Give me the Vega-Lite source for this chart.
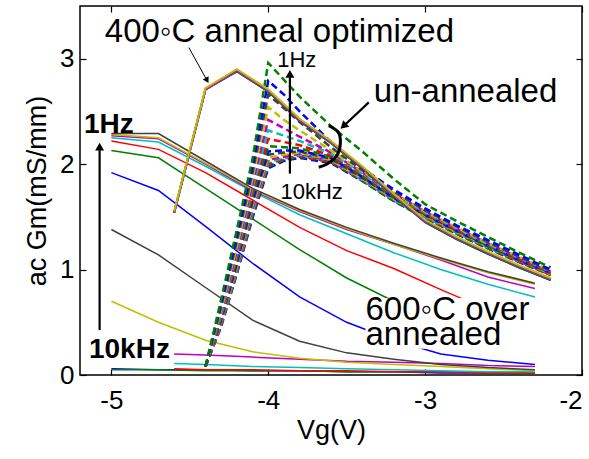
{
"$schema":"https://vega.github.io/schema/vega-lite/v6.json",
"width":502,"height":369,
"autosize":{"type":"none"},
"padding":{"left":80,"top":6,"right":7,"bottom":84},
"background":"white",
"config":{"view":{"stroke":"#000","strokeWidth":1.5},"font":"Liberation Sans",
"axis":{"grid":false,"domain":false,"tickColor":"#000","tickSize":6,"tickWidth":1.2,"labelFont":"Liberation Sans","labelFontSize":26,"labelColor":"#000","titleFont":"Liberation Sans","titleFontSize":27,"titleFontWeight":"normal","titleColor":"#000"}},
"datasets":{
"o":[
{"s":"o14","x":-5,"y":0.06},{"s":"o14","x":-4.7,"y":0.05},{"s":"o14","x":-4.4,"y":0.05},{"s":"o14","x":-4.1,"y":0.04},{"s":"o14","x":-3.8,"y":0.04},{"s":"o14","x":-3.5,"y":0.03},{"s":"o14","x":-3.2,"y":0.03},{"s":"o14","x":-2.9,"y":0.02},{"s":"o14","x":-2.6,"y":0.02},{"s":"o14","x":-2.3,"y":0.02},
{"s":"o13","x":-5,"y":0.05},{"s":"o13","x":-4.7,"y":0.05},{"s":"o13","x":-4.4,"y":0.04},{"s":"o13","x":-4.1,"y":0.04},{"s":"o13","x":-3.8,"y":0.04},{"s":"o13","x":-3.5,"y":0.03},{"s":"o13","x":-3.2,"y":0.03},{"s":"o13","x":-2.9,"y":0.03},{"s":"o13","x":-2.6,"y":0.02},{"s":"o13","x":-2.3,"y":0.02},
{"s":"o12","x":-4.6,"y":0.06},{"s":"o12","x":-4.4,"y":0.05},{"s":"o12","x":-4.1,"y":0.05},{"s":"o12","x":-3.8,"y":0.04},{"s":"o12","x":-3.5,"y":0.04},{"s":"o12","x":-3.2,"y":0.03},{"s":"o12","x":-2.9,"y":0.03},{"s":"o12","x":-2.6,"y":0.02},{"s":"o12","x":-2.3,"y":0.02},
{"s":"o11","x":-4.6,"y":0.11},{"s":"o11","x":-4.4,"y":0.10},{"s":"o11","x":-4.1,"y":0.08},{"s":"o11","x":-3.8,"y":0.07},{"s":"o11","x":-3.5,"y":0.06},{"s":"o11","x":-3.2,"y":0.05},{"s":"o11","x":-2.9,"y":0.04},{"s":"o11","x":-2.6,"y":0.03},{"s":"o11","x":-2.3,"y":0.03},
{"s":"o10","x":-4.6,"y":0.20},{"s":"o10","x":-4.4,"y":0.19},{"s":"o10","x":-4.1,"y":0.17},{"s":"o10","x":-3.8,"y":0.15},{"s":"o10","x":-3.5,"y":0.13},{"s":"o10","x":-3.2,"y":0.12},{"s":"o10","x":-2.9,"y":0.11},{"s":"o10","x":-2.6,"y":0.09},{"s":"o10","x":-2.3,"y":0.08},
{"s":"o09","x":-5,"y":0.70},{"s":"o09","x":-4.7,"y":0.50},{"s":"o09","x":-4.4,"y":0.33},{"s":"o09","x":-4.1,"y":0.22},{"s":"o09","x":-3.8,"y":0.16},{"s":"o09","x":-3.5,"y":0.12},{"s":"o09","x":-3.2,"y":0.10},{"s":"o09","x":-2.9,"y":0.08},{"s":"o09","x":-2.6,"y":0.06},{"s":"o09","x":-2.3,"y":0.04},
{"s":"o08","x":-5,"y":1.38},{"s":"o08","x":-4.7,"y":1.14},{"s":"o08","x":-4.4,"y":0.83},{"s":"o08","x":-4.1,"y":0.52},{"s":"o08","x":-3.8,"y":0.32},{"s":"o08","x":-3.5,"y":0.21},{"s":"o08","x":-3.2,"y":0.15},{"s":"o08","x":-2.9,"y":0.10},{"s":"o08","x":-2.6,"y":0.07},{"s":"o08","x":-2.3,"y":0.05},
{"s":"o07","x":-5,"y":1.92},{"s":"o07","x":-4.7,"y":1.75},{"s":"o07","x":-4.4,"y":1.41},{"s":"o07","x":-4.1,"y":1.06},{"s":"o07","x":-3.8,"y":0.74},{"s":"o07","x":-3.5,"y":0.50},{"s":"o07","x":-3.2,"y":0.33},{"s":"o07","x":-2.9,"y":0.20},{"s":"o07","x":-2.6,"y":0.14},{"s":"o07","x":-2.3,"y":0.10},
{"s":"o06","x":-5,"y":2.13},{"s":"o06","x":-4.7,"y":2.06},{"s":"o06","x":-4.4,"y":1.77},{"s":"o06","x":-4.1,"y":1.48},{"s":"o06","x":-3.8,"y":1.19},{"s":"o06","x":-3.5,"y":0.92},{"s":"o06","x":-3.2,"y":0.70},{"s":"o06","x":-2.9,"y":0.52},{"s":"o06","x":-2.6,"y":0.38},{"s":"o06","x":-2.3,"y":0.27},
{"s":"o05","x":-5,"y":2.22},{"s":"o05","x":-4.7,"y":2.14},{"s":"o05","x":-4.4,"y":1.92},{"s":"o05","x":-4.1,"y":1.66},{"s":"o05","x":-3.8,"y":1.40},{"s":"o05","x":-3.5,"y":1.18},{"s":"o05","x":-3.2,"y":1.01},{"s":"o05","x":-2.9,"y":0.81},{"s":"o05","x":-2.6,"y":0.62},{"s":"o05","x":-2.3,"y":0.48},
{"s":"o04","x":-5,"y":2.25},{"s":"o04","x":-4.7,"y":2.21},{"s":"o04","x":-4.4,"y":1.98},{"s":"o04","x":-4.1,"y":1.74},{"s":"o04","x":-3.8,"y":1.52},{"s":"o04","x":-3.5,"y":1.34},{"s":"o04","x":-3.2,"y":1.16},{"s":"o04","x":-2.9,"y":1.00},{"s":"o04","x":-2.6,"y":0.86},{"s":"o04","x":-2.3,"y":0.74},
{"s":"o03","x":-5,"y":2.27},{"s":"o03","x":-4.7,"y":2.24},{"s":"o03","x":-4.4,"y":2.00},{"s":"o03","x":-4.1,"y":1.75},{"s":"o03","x":-3.8,"y":1.55},{"s":"o03","x":-3.5,"y":1.38},{"s":"o03","x":-3.2,"y":1.24},{"s":"o03","x":-2.9,"y":1.09},{"s":"o03","x":-2.6,"y":0.93},{"s":"o03","x":-2.3,"y":0.82},
{"s":"o02","x":-5,"y":2.28},{"s":"o02","x":-4.7,"y":2.25},{"s":"o02","x":-4.4,"y":2.01},{"s":"o02","x":-4.1,"y":1.76},{"s":"o02","x":-3.8,"y":1.56},{"s":"o02","x":-3.5,"y":1.39},{"s":"o02","x":-3.2,"y":1.24},{"s":"o02","x":-2.9,"y":1.10},{"s":"o02","x":-2.6,"y":0.97},{"s":"o02","x":-2.3,"y":0.86},
{"s":"o01","x":-5,"y":2.29},{"s":"o01","x":-4.7,"y":2.29},{"s":"o01","x":-4.4,"y":2.03},{"s":"o01","x":-4.1,"y":1.77},{"s":"o01","x":-3.8,"y":1.57},{"s":"o01","x":-3.5,"y":1.40},{"s":"o01","x":-3.2,"y":1.25},{"s":"o01","x":-2.9,"y":1.11},{"s":"o01","x":-2.6,"y":0.98},{"s":"o01","x":-2.3,"y":0.87}
],
"u":[
{"s":"u16","x":-4.4,"y":0.08},{"s":"u16","x":-4.3,"y":0.46},{"s":"u16","x":-4.2,"y":0.96},{"s":"u16","x":-4.1,"y":1.49},{"s":"u16","x":-4.0,"y":1.96},{"s":"u16","x":-3.9,"y":2.03},{"s":"u16","x":-3.8,"y":2.06},{"s":"u16","x":-3.6,"y":2.01},{"s":"u16","x":-3.4,"y":1.84},{"s":"u16","x":-3.2,"y":1.65},{"s":"u16","x":-3.0,"y":1.49},{"s":"u16","x":-2.8,"y":1.34},{"s":"u16","x":-2.6,"y":1.20},{"s":"u16","x":-2.4,"y":1.07},{"s":"u16","x":-2.2,"y":0.95},
{"s":"u15","x":-4.4,"y":0.08},{"s":"u15","x":-4.3,"y":0.47},{"s":"u15","x":-4.2,"y":0.97},{"s":"u15","x":-4.1,"y":1.51},{"s":"u15","x":-4.0,"y":1.98},{"s":"u15","x":-3.9,"y":2.04},{"s":"u15","x":-3.8,"y":2.07},{"s":"u15","x":-3.6,"y":2.02},{"s":"u15","x":-3.4,"y":1.84},{"s":"u15","x":-3.2,"y":1.65},{"s":"u15","x":-3.0,"y":1.49},{"s":"u15","x":-2.8,"y":1.34},{"s":"u15","x":-2.6,"y":1.20},{"s":"u15","x":-2.4,"y":1.07},{"s":"u15","x":-2.2,"y":0.95},
{"s":"u14","x":-4.4,"y":0.08},{"s":"u14","x":-4.3,"y":0.48},{"s":"u14","x":-4.2,"y":0.98},{"s":"u14","x":-4.1,"y":1.53},{"s":"u14","x":-4.0,"y":2.00},{"s":"u14","x":-3.9,"y":2.05},{"s":"u14","x":-3.8,"y":2.08},{"s":"u14","x":-3.6,"y":2.02},{"s":"u14","x":-3.4,"y":1.85},{"s":"u14","x":-3.2,"y":1.66},{"s":"u14","x":-3.0,"y":1.50},{"s":"u14","x":-2.8,"y":1.35},{"s":"u14","x":-2.6,"y":1.21},{"s":"u14","x":-2.4,"y":1.08},{"s":"u14","x":-2.2,"y":0.95},
{"s":"u13","x":-4.4,"y":0.08},{"s":"u13","x":-4.3,"y":0.49},{"s":"u13","x":-4.2,"y":0.99},{"s":"u13","x":-4.1,"y":1.55},{"s":"u13","x":-4.0,"y":2.02},{"s":"u13","x":-3.9,"y":2.06},{"s":"u13","x":-3.8,"y":2.09},{"s":"u13","x":-3.6,"y":2.03},{"s":"u13","x":-3.4,"y":1.85},{"s":"u13","x":-3.2,"y":1.66},{"s":"u13","x":-3.0,"y":1.50},{"s":"u13","x":-2.8,"y":1.35},{"s":"u13","x":-2.6,"y":1.21},{"s":"u13","x":-2.4,"y":1.08},{"s":"u13","x":-2.2,"y":0.96},
{"s":"u12","x":-4.4,"y":0.08},{"s":"u12","x":-4.3,"y":0.50},{"s":"u12","x":-4.2,"y":1.01},{"s":"u12","x":-4.1,"y":1.58},{"s":"u12","x":-4.0,"y":2.04},{"s":"u12","x":-3.9,"y":2.07},{"s":"u12","x":-3.8,"y":2.10},{"s":"u12","x":-3.6,"y":2.03},{"s":"u12","x":-3.4,"y":1.86},{"s":"u12","x":-3.2,"y":1.67},{"s":"u12","x":-3.0,"y":1.51},{"s":"u12","x":-2.8,"y":1.36},{"s":"u12","x":-2.6,"y":1.22},{"s":"u12","x":-2.4,"y":1.08},{"s":"u12","x":-2.2,"y":0.96},
{"s":"u11","x":-4.4,"y":0.08},{"s":"u11","x":-4.3,"y":0.51},{"s":"u11","x":-4.2,"y":1.03},{"s":"u11","x":-4.1,"y":1.61},{"s":"u11","x":-4.0,"y":2.06},{"s":"u11","x":-3.9,"y":2.09},{"s":"u11","x":-3.8,"y":2.11},{"s":"u11","x":-3.6,"y":2.04},{"s":"u11","x":-3.4,"y":1.86},{"s":"u11","x":-3.2,"y":1.67},{"s":"u11","x":-3.0,"y":1.51},{"s":"u11","x":-2.8,"y":1.36},{"s":"u11","x":-2.6,"y":1.22},{"s":"u11","x":-2.4,"y":1.09},{"s":"u11","x":-2.2,"y":0.96},
{"s":"u10","x":-4.4,"y":0.08},{"s":"u10","x":-4.3,"y":0.52},{"s":"u10","x":-4.2,"y":1.05},{"s":"u10","x":-4.1,"y":1.64},{"s":"u10","x":-4.0,"y":2.09},{"s":"u10","x":-3.9,"y":2.11},{"s":"u10","x":-3.8,"y":2.12},{"s":"u10","x":-3.6,"y":2.05},{"s":"u10","x":-3.4,"y":1.87},{"s":"u10","x":-3.2,"y":1.68},{"s":"u10","x":-3.0,"y":1.52},{"s":"u10","x":-2.8,"y":1.37},{"s":"u10","x":-2.6,"y":1.22},{"s":"u10","x":-2.4,"y":1.09},{"s":"u10","x":-2.2,"y":0.97},
{"s":"u09","x":-4.4,"y":0.08},{"s":"u09","x":-4.3,"y":0.53},{"s":"u09","x":-4.2,"y":1.07},{"s":"u09","x":-4.1,"y":1.67},{"s":"u09","x":-4.0,"y":2.12},{"s":"u09","x":-3.9,"y":2.13},{"s":"u09","x":-3.8,"y":2.13},{"s":"u09","x":-3.6,"y":2.06},{"s":"u09","x":-3.4,"y":1.88},{"s":"u09","x":-3.2,"y":1.68},{"s":"u09","x":-3.0,"y":1.52},{"s":"u09","x":-2.8,"y":1.37},{"s":"u09","x":-2.6,"y":1.23},{"s":"u09","x":-2.4,"y":1.09},{"s":"u09","x":-2.2,"y":0.97},
{"s":"u08","x":-4.4,"y":0.08},{"s":"u08","x":-4.3,"y":0.54},{"s":"u08","x":-4.2,"y":1.09},{"s":"u08","x":-4.1,"y":1.70},{"s":"u08","x":-4.0,"y":2.17},{"s":"u08","x":-3.9,"y":2.16},{"s":"u08","x":-3.8,"y":2.15},{"s":"u08","x":-3.6,"y":2.07},{"s":"u08","x":-3.4,"y":1.89},{"s":"u08","x":-3.2,"y":1.69},{"s":"u08","x":-3.0,"y":1.53},{"s":"u08","x":-2.8,"y":1.38},{"s":"u08","x":-2.6,"y":1.23},{"s":"u08","x":-2.4,"y":1.10},{"s":"u08","x":-2.2,"y":0.97},
{"s":"u07","x":-4.4,"y":0.08},{"s":"u07","x":-4.3,"y":0.56},{"s":"u07","x":-4.2,"y":1.12},{"s":"u07","x":-4.1,"y":1.74},{"s":"u07","x":-4.0,"y":2.24},{"s":"u07","x":-3.9,"y":2.21},{"s":"u07","x":-3.8,"y":2.18},{"s":"u07","x":-3.6,"y":2.08},{"s":"u07","x":-3.4,"y":1.90},{"s":"u07","x":-3.2,"y":1.70},{"s":"u07","x":-3.0,"y":1.53},{"s":"u07","x":-2.8,"y":1.38},{"s":"u07","x":-2.6,"y":1.24},{"s":"u07","x":-2.4,"y":1.10},{"s":"u07","x":-2.2,"y":0.98},
{"s":"u06","x":-4.4,"y":0.08},{"s":"u06","x":-4.3,"y":0.58},{"s":"u06","x":-4.2,"y":1.15},{"s":"u06","x":-4.1,"y":1.78},{"s":"u06","x":-4.0,"y":2.32},{"s":"u06","x":-3.9,"y":2.27},{"s":"u06","x":-3.8,"y":2.22},{"s":"u06","x":-3.6,"y":2.10},{"s":"u06","x":-3.4,"y":1.91},{"s":"u06","x":-3.2,"y":1.71},{"s":"u06","x":-3.0,"y":1.54},{"s":"u06","x":-2.8,"y":1.39},{"s":"u06","x":-2.6,"y":1.24},{"s":"u06","x":-2.4,"y":1.11},{"s":"u06","x":-2.2,"y":0.98},
{"s":"u05","x":-4.4,"y":0.08},{"s":"u05","x":-4.3,"y":0.60},{"s":"u05","x":-4.2,"y":1.18},{"s":"u05","x":-4.1,"y":1.82},{"s":"u05","x":-4.0,"y":2.42},{"s":"u05","x":-3.9,"y":2.34},{"s":"u05","x":-3.8,"y":2.26},{"s":"u05","x":-3.6,"y":2.11},{"s":"u05","x":-3.4,"y":1.92},{"s":"u05","x":-3.2,"y":1.72},{"s":"u05","x":-3.0,"y":1.55},{"s":"u05","x":-2.8,"y":1.39},{"s":"u05","x":-2.6,"y":1.25},{"s":"u05","x":-2.4,"y":1.11},{"s":"u05","x":-2.2,"y":0.98},
{"s":"u04","x":-4.4,"y":0.08},{"s":"u04","x":-4.3,"y":0.62},{"s":"u04","x":-4.2,"y":1.22},{"s":"u04","x":-4.1,"y":1.87},{"s":"u04","x":-4.0,"y":2.54},{"s":"u04","x":-3.9,"y":2.42},{"s":"u04","x":-3.8,"y":2.32},{"s":"u04","x":-3.6,"y":2.13},{"s":"u04","x":-3.4,"y":1.93},{"s":"u04","x":-3.2,"y":1.73},{"s":"u04","x":-3.0,"y":1.55},{"s":"u04","x":-2.8,"y":1.40},{"s":"u04","x":-2.6,"y":1.25},{"s":"u04","x":-2.4,"y":1.12},{"s":"u04","x":-2.2,"y":0.99},
{"s":"u03","x":-4.4,"y":0.08},{"s":"u03","x":-4.3,"y":0.65},{"s":"u03","x":-4.2,"y":1.27},{"s":"u03","x":-4.1,"y":1.92},{"s":"u03","x":-4.0,"y":2.66},{"s":"u03","x":-3.9,"y":2.53},{"s":"u03","x":-3.8,"y":2.40},{"s":"u03","x":-3.6,"y":2.16},{"s":"u03","x":-3.4,"y":1.94},{"s":"u03","x":-3.2,"y":1.74},{"s":"u03","x":-3.0,"y":1.56},{"s":"u03","x":-2.8,"y":1.41},{"s":"u03","x":-2.6,"y":1.26},{"s":"u03","x":-2.4,"y":1.12},{"s":"u03","x":-2.2,"y":0.99},
{"s":"u02","x":-4.4,"y":0.08},{"s":"u02","x":-4.3,"y":0.68},{"s":"u02","x":-4.2,"y":1.32},{"s":"u02","x":-4.1,"y":1.98},{"s":"u02","x":-4.0,"y":2.79},{"s":"u02","x":-3.9,"y":2.66},{"s":"u02","x":-3.8,"y":2.50},{"s":"u02","x":-3.6,"y":2.21},{"s":"u02","x":-3.4,"y":1.96},{"s":"u02","x":-3.2,"y":1.76},{"s":"u02","x":-3.0,"y":1.58},{"s":"u02","x":-2.8,"y":1.42},{"s":"u02","x":-2.6,"y":1.28},{"s":"u02","x":-2.4,"y":1.14},{"s":"u02","x":-2.2,"y":1.00},
{"s":"u01","x":-4.4,"y":0.08},{"s":"u01","x":-4.3,"y":0.72},{"s":"u01","x":-4.2,"y":1.38},{"s":"u01","x":-4.1,"y":2.05},{"s":"u01","x":-4.0,"y":2.96},{"s":"u01","x":-3.9,"y":2.80},{"s":"u01","x":-3.8,"y":2.64},{"s":"u01","x":-3.6,"y":2.36},{"s":"u01","x":-3.4,"y":2.12},{"s":"u01","x":-3.2,"y":1.86},{"s":"u01","x":-3.0,"y":1.62},{"s":"u01","x":-2.8,"y":1.46},{"s":"u01","x":-2.6,"y":1.31},{"s":"u01","x":-2.4,"y":1.16},{"s":"u01","x":-2.2,"y":1.02}
],
"p":[
{"s":"p1","x":-4.6,"y":1.54},{"s":"p1","x":-4.4,"y":2.71},{"s":"p1","x":-4.2,"y":2.88},{"s":"p1","x":-4.0,"y":2.69},{"s":"p1","x":-3.8,"y":2.41},{"s":"p1","x":-3.6,"y":2.20},{"s":"p1","x":-3.4,"y":1.96},{"s":"p1","x":-3.2,"y":1.70},{"s":"p1","x":-3.0,"y":1.45},{"s":"p1","x":-2.8,"y":1.29},{"s":"p1","x":-2.6,"y":1.15},{"s":"p1","x":-2.4,"y":1.02},{"s":"p1","x":-2.2,"y":0.90},
{"s":"p2","x":-4.6,"y":1.54},{"s":"p2","x":-4.4,"y":2.71},{"s":"p2","x":-4.2,"y":2.88},{"s":"p2","x":-4.0,"y":2.69},{"s":"p2","x":-3.8,"y":2.41},{"s":"p2","x":-3.6,"y":2.20},{"s":"p2","x":-3.4,"y":1.96},{"s":"p2","x":-3.2,"y":1.70},{"s":"p2","x":-3.0,"y":1.45},{"s":"p2","x":-2.8,"y":1.29},{"s":"p2","x":-2.6,"y":1.15},{"s":"p2","x":-2.4,"y":1.02},{"s":"p2","x":-2.2,"y":0.90},
{"s":"p3","x":-4.6,"y":1.54},{"s":"p3","x":-4.4,"y":2.71},{"s":"p3","x":-4.2,"y":2.89},{"s":"p3","x":-4.0,"y":2.70},{"s":"p3","x":-3.8,"y":2.42},{"s":"p3","x":-3.6,"y":2.21},{"s":"p3","x":-3.4,"y":1.97},{"s":"p3","x":-3.2,"y":1.71},{"s":"p3","x":-3.0,"y":1.46},{"s":"p3","x":-2.8,"y":1.30},{"s":"p3","x":-2.6,"y":1.16},{"s":"p3","x":-2.4,"y":1.03},{"s":"p3","x":-2.2,"y":0.91},
{"s":"p4","x":-4.6,"y":1.54},{"s":"p4","x":-4.4,"y":2.71},{"s":"p4","x":-4.2,"y":2.89},{"s":"p4","x":-4.0,"y":2.70},{"s":"p4","x":-3.8,"y":2.42},{"s":"p4","x":-3.6,"y":2.21},{"s":"p4","x":-3.4,"y":1.97},{"s":"p4","x":-3.2,"y":1.71},{"s":"p4","x":-3.0,"y":1.46},{"s":"p4","x":-2.8,"y":1.30},{"s":"p4","x":-2.6,"y":1.16},{"s":"p4","x":-2.4,"y":1.03},{"s":"p4","x":-2.2,"y":0.91},
{"s":"p5","x":-4.6,"y":1.54},{"s":"p5","x":-4.4,"y":2.71},{"s":"p5","x":-4.2,"y":2.89},{"s":"p5","x":-4.0,"y":2.70},{"s":"p5","x":-3.8,"y":2.42},{"s":"p5","x":-3.6,"y":2.21},{"s":"p5","x":-3.4,"y":1.97},{"s":"p5","x":-3.2,"y":1.71},{"s":"p5","x":-3.0,"y":1.46},{"s":"p5","x":-2.8,"y":1.30},{"s":"p5","x":-2.6,"y":1.16},{"s":"p5","x":-2.4,"y":1.03},{"s":"p5","x":-2.2,"y":0.91},
{"s":"p6","x":-4.6,"y":1.55},{"s":"p6","x":-4.4,"y":2.72},{"s":"p6","x":-4.2,"y":2.90},{"s":"p6","x":-4.0,"y":2.71},{"s":"p6","x":-3.8,"y":2.43},{"s":"p6","x":-3.6,"y":2.22},{"s":"p6","x":-3.4,"y":1.98},{"s":"p6","x":-3.2,"y":1.72},{"s":"p6","x":-3.0,"y":1.47},{"s":"p6","x":-2.8,"y":1.31},{"s":"p6","x":-2.6,"y":1.17},{"s":"p6","x":-2.4,"y":1.04},{"s":"p6","x":-2.2,"y":0.92}
],
"box":[{"x":-3.38,"x2":-2.28,"y":0.73,"y2":0.25}],
"notes":[
{"id":"t400","text":"400◦C anneal optimized","x":-5.042,"y":3.163},
{"id":"tun","text":"un-annealed","x":-3.327,"y":2.586},
{"id":"t600a","text":"600◦C over","x":-3.38,"y":0.52},
{"id":"t600b","text":"annealed","x":-3.38,"y":0.288},
{"id":"s1","text":"1Hz","x":-3.943,"y":2.917},
{"id":"s2","text":"10kHz","x":-3.922,"y":1.672},
{"id":"b1","text":"1Hz","x":-5.175,"y":2.292},
{"id":"b2","text":"10kHz","x":-5.143,"y":0.158}
],
"arrows":[
{"id":"a400","x":-4.506,"y":3.106,"x2":-4.39,"y2":2.793},
{"id":"aun","x":-3.359,"y":2.586,"x2":-3.521,"y2":2.36},
{"id":"aleft","x":-5.075,"y":0.426,"x2":-5.075,"y2":2.166},
{"id":"amid","x":-3.862,"y":1.91,"x2":-3.862,"y2":2.857}
],
"heads":[
{"id":"a400","x":-4.39,"y":2.793},
{"id":"aun","x":-3.521,"y":2.36},
{"id":"aleft","x":-5.075,"y":2.166},
{"id":"amid","x":-3.862,"y":2.857}
],
"brace":[
{"o":1,"x":-3.614,"y":2.365},
{"o":2,"x":-3.552,"y":2.299},
{"o":3,"x":-3.540,"y":2.204},
{"o":4,"x":-3.559,"y":2.091},
{"o":5,"x":-3.622,"y":2.003},
{"o":6,"x":-3.678,"y":1.971}
]
},
"resolve":{"scale":{"color":"independent"},"axis":{"x":"independent","y":"independent"}},
"layer":[
{"data":{"name":"o"},"mark":{"type":"line","strokeWidth":1.5},
"encoding":{
"x":{"field":"x","type":"quantitative","scale":{"domain":[-5.2,-2],"nice":false,"zero":false},"axis":{"orient":"bottom","values":[-5,-4,-3,-2],"ticks":false,"labelExpr":"''+datum.value","labelPadding":12,"title":"Vg(V)","titlePadding":4}},
"y":{"field":"y","type":"quantitative","scale":{"domain":[0,3.5],"nice":false,"zero":false},"axis":{"orient":"left","values":[0,1,2,3],"ticks":false,"labelPadding":6,"title":"ac Gm(mS/mm)","titlePadding":8}},
"color":{"field":"s","type":"nominal","legend":null,"scale":{"domain":["o01","o02","o03","o04","o05","o06","o07","o08","o09","o10","o11","o12","o13","o14"],"range":["#404040","#BFBF00","#BF00BF","#00BFBF","#FF0000","#008000","#0000FF","#404040","#BFBF00","#BF00BF","#00BFBF","#FF0000","#008000","#0000FF"]}}}},
{"data":{"name":"u"},"mark":{"type":"line","strokeWidth":2.5,"strokeDash":[7,4]},
"encoding":{
"x":{"field":"x","type":"quantitative","scale":{"domain":[-5.2,-2],"nice":false,"zero":false},"axis":{"orient":"top","offset":-369,"values":[-5,-4,-3,-2],"labels":false,"title":null}},
"y":{"field":"y","type":"quantitative","scale":{"domain":[0,3.5],"nice":false,"zero":false},"axis":{"orient":"right","offset":-502,"values":[0,1,2,3],"labels":false,"title":null}},
"color":{"field":"s","type":"nominal","legend":null,"scale":{"domain":["u01","u02","u03","u04","u05","u06","u07","u08","u09","u10","u11","u12","u13","u14","u15","u16"],"range":["#008000","#0000FF","#404040","#BFBF00","#BF00BF","#00BFBF","#FF0000","#008000","#0000FF","#404040","#BFBF00","#BF00BF","#00BFBF","#FF0000","#008000","#0000FF"]}}}},
{"data":{"name":"p"},"mark":{"type":"line","strokeWidth":2},
"encoding":{
"x":{"field":"x","type":"quantitative","scale":{"domain":[-5.2,-2],"nice":false,"zero":false},"axis":{"orient":"bottom","offset":-369,"values":[-5,-4,-3,-2],"labels":false,"title":null}},
"y":{"field":"y","type":"quantitative","scale":{"domain":[0,3.5],"nice":false,"zero":false},"axis":{"orient":"left","offset":-502,"values":[0,1,2,3],"labels":false,"title":null}},
"color":{"field":"s","type":"nominal","legend":null,"scale":{"domain":["p1","p2","p3","p4","p5","p6"],"range":["#0000FF","#008000","#FF0000","#00BFBF","#BF00BF","#BFBF00"]}}}},
{"data":{"name":"box"},"mark":{"type":"rect","fill":"white"},
"encoding":{
"x":{"field":"x","type":"quantitative","axis":null},"x2":{"field":"x2"},
"y":{"field":"y","type":"quantitative","axis":null},"y2":{"field":"y2"}}},
{"data":{"name":"arrows"},"transform":[{"filter":"datum.id == 'a400'"}],"mark":{"type":"rule","color":"#000","strokeWidth":1},
"encoding":{"x":{"field":"x","type":"quantitative","axis":null},"x2":{"field":"x2"},"y":{"field":"y","type":"quantitative","axis":null},"y2":{"field":"y2"}}},
{"data":{"name":"arrows"},"transform":[{"filter":"datum.id != 'a400'"}],"mark":{"type":"rule","color":"#000","strokeWidth":2.2},
"encoding":{"x":{"field":"x","type":"quantitative","axis":null},"x2":{"field":"x2"},"y":{"field":"y","type":"quantitative","axis":null},"y2":{"field":"y2"}}},
{"data":{"name":"heads"},"transform":[{"filter":"datum.id == 'aleft' || datum.id == 'amid'"}],"mark":{"type":"point","shape":"triangle-up","filled":true,"color":"#000","size":80,"opacity":1},
"encoding":{"x":{"field":"x","type":"quantitative","axis":null},"y":{"field":"y","type":"quantitative","axis":null}}},
{"data":{"name":"heads"},"transform":[{"filter":"datum.id == 'a400'"}],"mark":{"type":"point","shape":"triangle-up","filled":true,"color":"#000","size":45,"angle":151,"opacity":1},
"encoding":{"x":{"field":"x","type":"quantitative","axis":null},"y":{"field":"y","type":"quantitative","axis":null}}},
{"data":{"name":"heads"},"transform":[{"filter":"datum.id == 'aun'"}],"mark":{"type":"point","shape":"triangle-up","filled":true,"color":"#000","size":80,"angle":227,"opacity":1},
"encoding":{"x":{"field":"x","type":"quantitative","axis":null},"y":{"field":"y","type":"quantitative","axis":null}}},
{"data":{"name":"brace"},"mark":{"type":"line","color":"#000","strokeWidth":3,"interpolate":"catmull-rom"},
"encoding":{"x":{"field":"x","type":"quantitative","axis":null},"y":{"field":"y","type":"quantitative","axis":null},"order":{"field":"o","type":"quantitative"}}},
{"data":{"name":"notes"},"transform":[{"filter":"indexof(['t400','tun','t600a','t600b'], datum.id) >= 0"}],"mark":{"type":"text","align":"left","baseline":"alphabetic","fontSize":33,"font":"Liberation Sans","color":"#000"},
"encoding":{"x":{"field":"x","type":"quantitative","axis":null},"y":{"field":"y","type":"quantitative","axis":null},"text":{"field":"text"}}},
{"data":{"name":"notes"},"transform":[{"filter":"datum.id == 's1' || datum.id == 's2'"}],"mark":{"type":"text","align":"left","baseline":"alphabetic","fontSize":22,"font":"Liberation Sans","color":"#000"},
"encoding":{"x":{"field":"x","type":"quantitative","axis":null},"y":{"field":"y","type":"quantitative","axis":null},"text":{"field":"text"}}},
{"data":{"name":"notes"},"transform":[{"filter":"datum.id == 'b1' || datum.id == 'b2'"}],"mark":{"type":"text","align":"left","baseline":"alphabetic","fontSize":28,"fontWeight":"bold","font":"Liberation Sans","color":"#000"},
"encoding":{"x":{"field":"x","type":"quantitative","axis":null},"y":{"field":"y","type":"quantitative","axis":null},"text":{"field":"text"}}}
]
}
